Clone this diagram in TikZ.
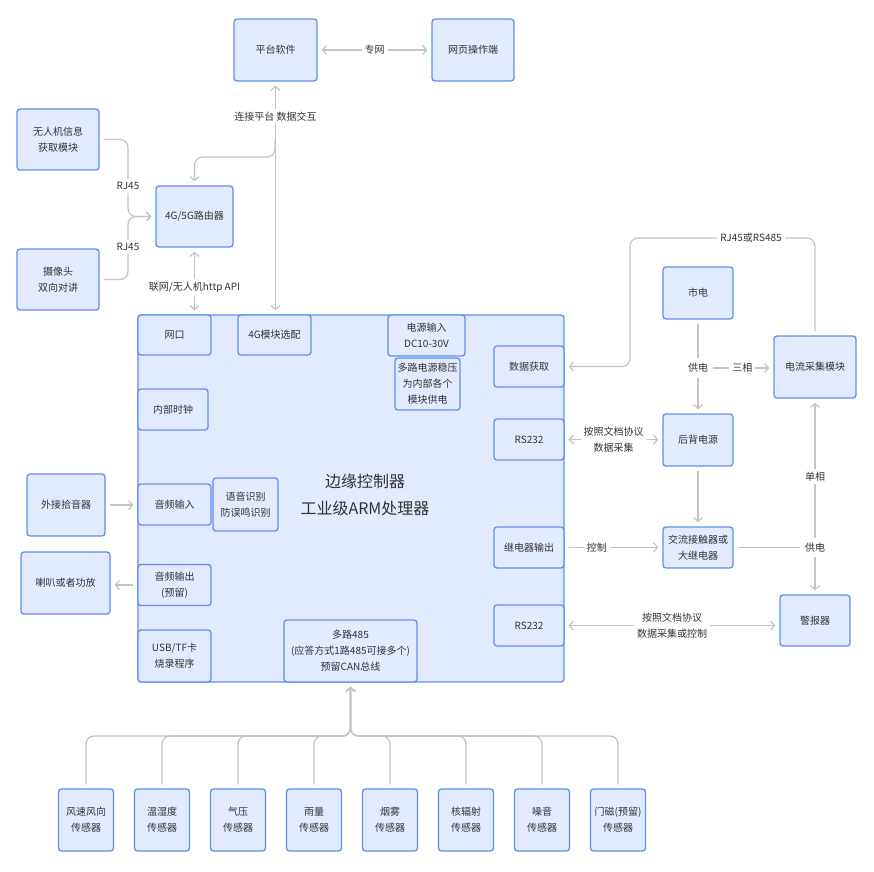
\documentclass[tikz,border=0pt]{standalone}
\usepackage{fontspec}
\usepackage{tikz}
\usetikzlibrary{arrows.meta}
\newfontfamily\cjk{Noto Sans CJK SC}
\definecolor{bfill}{HTML}{E2EAFD}
\definecolor{bdraw}{HTML}{5E8FF0}
\definecolor{lgray}{HTML}{C2C3C7}
\definecolor{txt}{HTML}{333333}

\begin{document}
\begin{tikzpicture}[x=1pt,y=-1pt,
  box/.style={draw=bdraw,fill=bfill,line width=1.3pt,rounded corners=3pt,inner sep=0pt,
    align=center,text=txt,font=\cjk\fontsize{10}{16}\selectfont},
  lbl/.style={fill=white,inner sep=3pt,align=center,text=txt,font=\cjk\fontsize{10}{16}\selectfont},
  conn/.style={draw=lgray,line width=1.2pt,shorten >=4pt,shorten <=4pt},
  >={Straight Barb[length=4pt,width=9pt]}]
\useasboundingbox (0,0) rectangle (874,871);
\node[box,minimum width=83,minimum height=62] (pt) at (275.5,50) {平台软件};
\node[box,minimum width=82,minimum height=62] (web) at (473,50) {网页操作端};
\node[box,minimum width=82,minimum height=61] (uav) at (58,139.5) {无人机信息\\获取模块};
\node[box,minimum width=77,minimum height=61] (router) at (194.5,216.5) {4G/5G路由器};
\node[box,minimum width=82,minimum height=61] (cam) at (58,279.5) {摄像头\\双向对讲};
\node[box,minimum width=426,minimum height=367] (main) at (351,498.5) {};
\node[box,minimum width=73,minimum height=40] (wk) at (174.5,335) {网口};
\node[box,minimum width=73,minimum height=40] (m4g) at (274.5,335) {4G模块选配};
\node[box,minimum width=77,minimum height=41] (pwr) at (426.5,335.5) {电源输入\\DC10-30V};
\node[box,minimum width=65,minimum height=52] (reg) at (427.5,384) {多路电源稳压\\为内部各个\\模块供电};
\node[box,minimum width=70,minimum height=41] (clk) at (173,409.5) {内部时钟};
\node[box,minimum width=73,minimum height=41] (ain) at (174.5,504.5) {音频输入};
\node[box,minimum width=65,minimum height=53] (voice) at (245.5,504.5) {语音识别\\防误鸣识别};
\node[box,minimum width=73,minimum height=41] (aout) at (174.5,585) {音频输出\\(预留)};
\node[box,minimum width=73,minimum height=52] (usb) at (174.5,656) {USB/TF卡\\烧录程序};
\node[box,minimum width=133,minimum height=62] (rs485) at (350.5,651) {多路485\\(应答方式1路485可接多个)\\预留CAN总线};
\node[box,minimum width=70,minimum height=41] (data) at (529,366.5) {数据获取};
\node[box,minimum width=70,minimum height=41] (rsa) at (529,439.5) {RS232};
\node[box,minimum width=70,minimum height=41] (relay) at (529,547.5) {继电器输出};
\node[box,minimum width=70,minimum height=41] (rsb) at (529,625.5) {RS232};
\node[text=txt,align=center,font=\cjk\fontsize{16}{27}\selectfont] (title) at (365,495) {边缘控制器\\工业级ARM处理器};
\node[box,minimum width=78,minimum height=62] (mic) at (66,505) {外接拾音器};
\node[box,minimum width=89,minimum height=62] (spk) at (65.5,583) {喇叭或者功放};
\node[box,minimum width=70,minimum height=52] (mains) at (698,293) {市电};
\node[box,minimum width=82,minimum height=62] (cur) at (815,367) {电流采集模块};
\node[box,minimum width=70,minimum height=52] (ups) at (698,440) {后背电源};
\node[box,minimum width=70,minimum height=41] (ac) at (698,547.5) {交流接触器或\\大继电器};
\node[box,minimum width=70,minimum height=51] (alarm) at (815,620.5) {警报器};
\foreach \n [count=\i] in {风速风向,温湿度,气压,雨量,烟雾,核辐射,噪音,门磁(预留)}
  \node[box,minimum width=55,minimum height=62] (s\i) at ({86+76*(\i-1)},820) {\n\\传感器};
\coordinate (j1) at (275,140);
\coordinate (rtop) at (194.5,157);
\coordinate (rj) at (128,216.5);
\coordinate (bus) at (350.5,736);
\coordinate (rjc) at (630,238);
\draw[conn,<->] (pt) -- node[lbl]{专网} (web);
\draw[conn,<->] (m4g.north -| pt) -- node[lbl,pos=0.85]{连接平台 数据交互} (pt);
\draw[conn,->,shorten <=0pt,rounded corners=8] (j1) |- (rtop) -- (router);
\draw[conn,<->] (router |- wk.north) -- node[lbl,pos=0.4]{联网/无人机http API} (router);
\draw[conn,->,rounded corners=8] (uav.east) -| (rj) -- (router.west);
\draw[conn,->,rounded corners=8] (cam.east) -| (rj) -- (router.west);
\node[lbl] at (128,186) {RJ45};
\node[lbl] at (128,247) {RJ45};
\draw[conn,->] (mic.east) -- (mic.east -| ain.west);
\draw[conn,->] (aout.west) -- (aout.west -| spk.east);
\foreach \i in {1,...,8}
  \draw[conn,->,rounded corners=8] (s\i.north) |- (bus) -- (rs485);
\draw[conn,->,rounded corners=8] (cur.north) |- (rjc) |- (data.east);
\node[lbl] at (751,238) {RJ45或RS485};
\node[lbl] (gd) at (698,368) {供电};
\draw[conn,shorten >=2pt] (mains) -- (gd);
\draw[conn,->,shorten <=2pt] (gd) -- (ups);
\draw[conn,->,shorten <=2pt] (gd.east) -- node[lbl]{三相} (gd.east -| cur.west);
\draw[conn,<->] (rsa.east) -- node[lbl]{按照文档协议\\数据采集} (rsa.east -| ups.west);
\draw[conn,->] (ups) -- (ac);
\draw[conn,->] (relay) -- node[lbl,pos=0.33]{控制} (ac);
\node[lbl] (gd2) at (815,547.5) {供电};
\draw[conn,shorten >=2pt] (ac.east) -- (ac.east -| gd2.west);
\draw[conn,->,shorten <=2pt] (gd2) -- (alarm);
\draw[conn,->,shorten <=2pt] (gd2) -- node[lbl,pos=0.45]{单相} (cur);
\draw[conn,<->] (rsb.east) -- node[lbl]{按照文档协议\\数据采集或控制} (rsb.east -| alarm.west);
\end{tikzpicture}
\end{document}
